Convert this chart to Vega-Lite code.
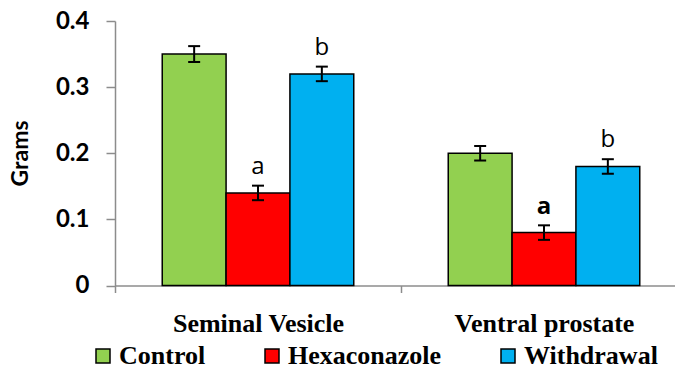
{
  "$schema": "https://vega.github.io/schema/vega-lite/v6.json",
  "width": 560,
  "height": 264.5,
  "autosize": {"type": "none"},
  "padding": {"left": 115, "top": 21, "right": 0, "bottom": 83.5},
  "background": "white",
  "config": {"view": {"stroke": null}},
  "data": {
    "values": [
      {"organ": "Seminal Vesicle", "group": "Control", "grams": 0.35, "se": 0.012, "sig": "", "weight": "normal"},
      {"organ": "Seminal Vesicle", "group": "Hexaconazole", "grams": 0.14, "se": 0.011, "sig": "a", "weight": "normal"},
      {"organ": "Seminal Vesicle", "group": "Withdrawal", "grams": 0.32, "se": 0.011, "sig": "b", "weight": "normal"},
      {"organ": "Ventral prostate", "group": "Control", "grams": 0.20, "se": 0.011, "sig": "", "weight": "normal"},
      {"organ": "Ventral prostate", "group": "Hexaconazole", "grams": 0.08, "se": 0.011, "sig": "a", "weight": "bold"},
      {"organ": "Ventral prostate", "group": "Withdrawal", "grams": 0.18, "se": 0.011, "sig": "b", "weight": "normal"}
    ]
  },
  "transform": [
    {"calculate": "datum.grams - datum.se", "as": "lo"},
    {"calculate": "datum.grams + datum.se", "as": "hi"}
  ],
  "encoding": {
    "x": {
      "field": "organ",
      "type": "nominal",
      "scale": {"domain": ["Seminal Vesicle", "Ventral prostate"], "range": [0, 572], "paddingInner": 0, "paddingOuter": 0},
      "axis": {
        "title": null,
        "labelAngle": 0,
        "labelFont": "Liberation Serif",
        "labelFontSize": 26,
        "labelFontWeight": "bold",
        "labelColor": "black",
        "labelPadding": 18,
        "domainColor": "#8c8c8c",
        "domainWidth": 1.5,
        "tickColor": "#8c8c8c",
        "tickWidth": 1.5,
        "tickSize": 7,
        "tickBand": "extent",
        "grid": false
      }
    },
    "xOffset": {
      "field": "group",
      "type": "nominal",
      "scale": {"domain": ["Control", "Hexaconazole", "Withdrawal"], "paddingInner": 0, "paddingOuter": 0.74}
    }
  },
  "layer": [
    {
      "mark": {"type": "bar", "stroke": "black", "strokeWidth": 1.5},
      "encoding": {
        "y": {
          "field": "grams",
          "type": "quantitative",
          "scale": {"domain": [0, 0.4], "nice": false},
          "axis": {
            "values": [0, 0.1, 0.2, 0.3, 0.4],
            "format": "~g",
            "labelFont": "Lato",
            "labelFontSize": 24,
            "labelFontWeight": "bold",
            "labelColor": "black",
            "labelPadding": 17,
            "tickSize": 9,
            "tickColor": "#8c8c8c",
            "tickWidth": 1.5,
            "domainColor": "#8c8c8c",
            "domainWidth": 1.5,
            "grid": false,
            "title": "Grams",
            "titleFont": "Lato",
            "titleFontSize": 23,
            "titleFontWeight": "bold",
            "titleColor": "black",
            "titleX": -94.5,
            "titleY": 132,
            "titleAngle": 270,
            "titleAlign": "center",
            "titleBaseline": "middle"
          }
        },
        "color": {
          "field": "group",
          "type": "nominal",
          "scale": {"domain": ["Control", "Hexaconazole", "Withdrawal"], "range": ["#92D050", "#FF0000", "#00B0F0"]},
          "legend": {
            "title": null,
            "orient": "none",
            "legendX": -25,
            "legendY": 322,
            "padding": 0,
            "direction": "horizontal",
            "symbolType": "square",
            "symbolSize": 196,
            "symbolStrokeColor": "black",
            "symbolStrokeWidth": 1.5,
            "symbolOpacity": 1,
            "labelFont": "Liberation Serif",
            "labelFontSize": 26,
            "labelFontWeight": "bold",
            "labelColor": "black",
            "labelOffset": 3,
            "columnPadding": 53
          }
        }
      }
    },
    {
      "mark": {"type": "rule", "color": "black", "strokeWidth": 2},
      "encoding": {
        "y": {"field": "lo", "type": "quantitative"},
        "y2": {"field": "hi"}
      }
    },
    {
      "mark": {"type": "tick", "color": "black", "thickness": 2, "size": 12, "opacity": 1},
      "encoding": {"y": {"field": "lo", "type": "quantitative"}}
    },
    {
      "mark": {"type": "tick", "color": "black", "thickness": 2, "size": 12, "opacity": 1},
      "encoding": {"y": {"field": "hi", "type": "quantitative"}}
    },
    {
      "transform": [{"filter": "datum.weight == 'normal'"}],
      "mark": {"type": "text", "baseline": "alphabetic", "dy": -19, "font": "Open Sans", "fontSize": 24, "color": "black"},
      "encoding": {
        "y": {"field": "grams", "type": "quantitative"},
        "text": {"field": "sig"}
      }
    },
    {
      "transform": [{"filter": "datum.weight == 'bold'"}],
      "mark": {"type": "text", "baseline": "alphabetic", "dy": -19, "font": "Open Sans", "fontSize": 24, "fontWeight": "bold", "color": "black"},
      "encoding": {
        "y": {"field": "grams", "type": "quantitative"},
        "text": {"field": "sig"}
      }
    }
  ]
}
